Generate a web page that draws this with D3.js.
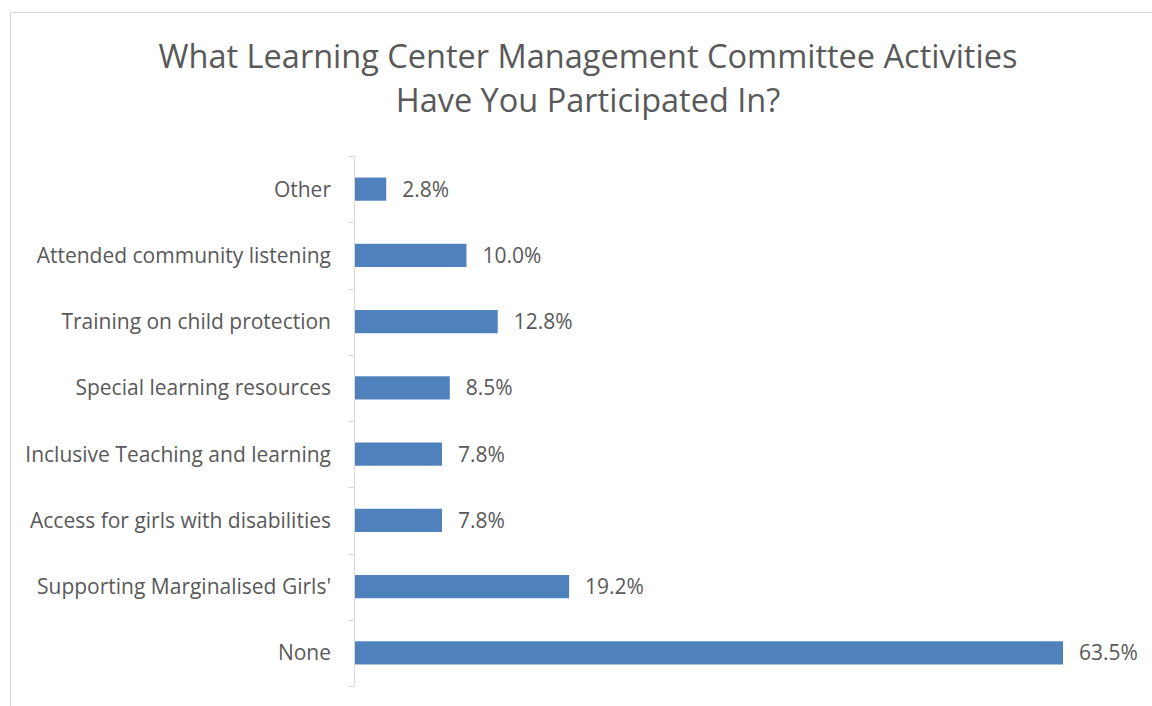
<!DOCTYPE html>
<html>
<head>
<meta charset="utf-8">
<script src="https://cdnjs.cloudflare.com/ajax/libs/d3/7.8.5/d3.min.js"></script>
<style>
  body { margin: 0; background: #fff; }
  text { font-family: "Open Sans", sans-serif; fill: #595959; }
</style>
</head>
<body>
<div id="chart"></div>
<script>
// categories from top to bottom
const categories = [
  'Other',
  'Attended community listening',
  'Training on child protection',
  'Special learning resources',
  'Inclusive Teaching and learning',
  'Access for girls with disabilities',
  "Supporting Marginalised Girls'",
  'None'
];
const values = [2.8, 10.0, 12.8, 8.5, 7.8, 7.8, 19.2, 63.5];
const titleLines = [
  'What Learning Center Management Committee Activities',
  'Have You Participated In?'
];

const width = 1152, height = 706;

const svg = d3.select('#chart').append('svg')
  .attr('width', width)
  .attr('height', height);

// chart frame (runs off the right and bottom edges)
svg.append('rect')
  .attr('x', 10.5).attr('y', 12.5)
  .attr('width', width + 20).attr('height', height + 20)
  .attr('fill', 'none')
  .attr('stroke', '#d9d9d9');

svg.selectAll('.title')
  .data(titleLines)
  .enter().append('text')
  .attr('class', 'title')
  .attr('x', 588)
  .attr('y', (d, i) => 68 + i * 44)
  .attr('text-anchor', 'middle')
  .style('font-size', '32.5px')
  .text(d => d);

const y = d3.scaleBand()
  .domain(categories)
  .range([156, 686])
  .paddingInner(0.65)
  .paddingOuter(0.325);

const x = d3.scaleLinear()
  .domain([0, 70])
  .range([355, 355 + 70 * 11.15]);

// bars
svg.selectAll('.bar')
  .data(values)
  .enter().append('rect')
  .attr('class', 'bar')
  .attr('x', x(0))
  .attr('y', (d, i) => y(categories[i]))
  .attr('width', d => x(d) - x(0))
  .attr('height', y.bandwidth())
  .attr('fill', '#4f81bd');

// value labels
svg.selectAll('.val')
  .data(values)
  .enter().append('text')
  .attr('class', 'val')
  .attr('x', d => x(d) + 16)
  .attr('y', (d, i) => y(categories[i]) + y.bandwidth() / 2)
  .attr('dy', '0.36em')
  .style('font-size', '21px')
  .text(d => d.toFixed(1) + '%');

// category axis with ticks between the bands
const axisG = svg.append('g');
axisG.append('line')
  .attr('x1', 354.5).attr('x2', 354.5)
  .attr('y1', 156).attr('y2', 686)
  .attr('stroke', '#d9d9d9');

const tickYs = d3.range(categories.length + 1).map(i => 156 + i * (530 / categories.length));
axisG.selectAll('.tick')
  .data(tickYs)
  .enter().append('line')
  .attr('x1', 348).attr('x2', 354.5)
  .attr('y1', d => Math.round(d) + 0.5).attr('y2', d => Math.round(d) + 0.5)
  .attr('stroke', '#d9d9d9');

axisG.selectAll('.cat')
  .data(categories)
  .enter().append('text')
  .attr('class', 'cat')
  .attr('x', 331)
  .attr('y', d => y(d) + y.bandwidth() / 2)
  .attr('dy', '0.36em')
  .attr('text-anchor', 'end')
  .style('font-size', '21px')
  .text(d => d);
</script>
</body>
</html>
